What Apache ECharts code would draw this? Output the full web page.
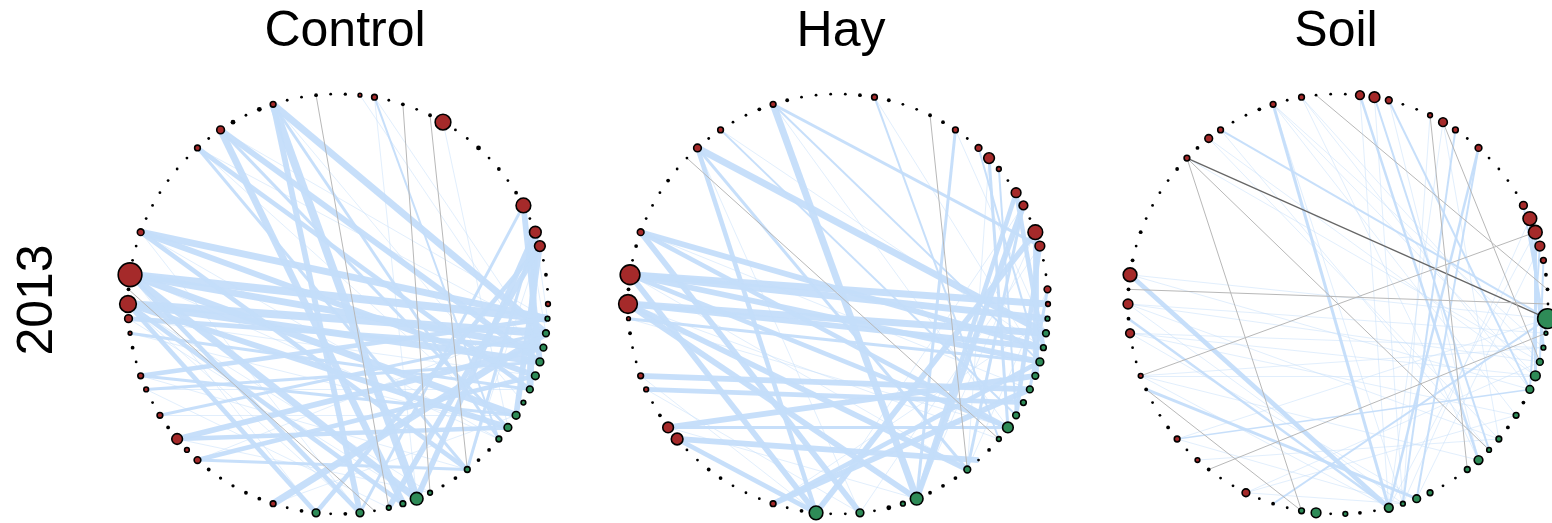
<!DOCTYPE html>
<html><head><meta charset="utf-8">
<script src="https://cdn.jsdelivr.net/npm/echarts@6/dist/echarts.min.js"></script>
<style>html,body{margin:0;padding:0;background:#fff}#c{width:1552px;height:523px}</style>
</head><body><div id="c"></div>
<script>
// ---- data ----
const N = 90; // nodes around each circle, index = position
const panelTitles = ['Control', 'Hay', 'Soil'];
const rowLabel = '2013';
// node colour code per index: r = red taxon, g = green taxon, k = absent (black dot)
const controlColors = 'rggggggggg' + 'gkkgkkgggg' + 'kgkkgkkrkk' + 'kkkrrrkrkr' + 'rkkrrrkrkk' +
                      'rkkkkkkrkr' + 'kkkrkkkkkr' + 'rkkkkrkkkk' + 'kkkrkrrkkk';
const controlSizes = [5,5,7,7,8,8,7,5,8,8, 6,3,3,6,3,2.5,5,13,6,5, 2,8,3,2,8,3,2,6,3,3,
                      2.5,2.5,3,7,5,11,3,6,2,5, 6,2,3,4,8,17,3,24,2,2, 7,2,2,2,2,2,2,6,2,8,
                      4,2,4,6,2,2,3,2,2.5,4, 6,2,3,2,3,16,2,2,4,2, 3,2,3,15,2,12,11,2,3,2];
const hayColors = 'rggggggggg' + 'gkkgkkkggk' + 'kgkkgkkrkk' + 'kkkkkrrkkr' + 'rkkkrrkrkk' +
                  'rkkkkkkrkr' + 'kkkrkkkkkk' + 'rkkkkkrkrr' + 'rkrrkrrkkr';
const haySizes = [5,5,7,6,8,7,7,6,7,11, 5,3,2,7,3,3,3,13,5,4, 2,8,2,2,14,3,2,6,2,2,
                  2,3,3,2,2,12,11,3,2,5, 6,2,2,3,4,19,3,20,2,3, 7,2,2,2,3,2,2,8,2,6,
                  2,2,3,6,3,2,2,2,2,3, 6,3,2,2,3,3,6,2,7,11, 5,2,10,9,2,15,10,2,2,7];
const soilColors = 'kggggggkgk' + 'ggggkkgggg' + 'kkgkggkkkr' + 'kkkrkrkkkk' + 'rkkrkrkrkk' +
                   'kkkkkkrkrr' + 'kkkrkrkkkr' + 'rrkkrrrkrk' + 'kkkrrrrrkk';
const soilSizes = [2,20,4,5,7,10,8,3,6,3, 6,5,9,6,2,2,6,8,5,9, 2,3,5,2,10,6,2,3,2,8,
                   2,2,3,5,2,6,3,2,2,3, 5,2,2,9,3,10,3,14,3,2, 3,2,2,2,2,3,6,3,8,6,
                   2,2,3,6,2,6,2,2,2,9, 11,7,2,2,5,9,6,2,7,2, 2,2,2,8,14,14,10,6,3,3];
// positive associations [source, target, weight]
const controlPos = [[47,1,7],[47,3,6],[47,8,6],[47,17,6],[45,2,7],[45,4,6],[45,9,5],[50,1,6],[50,5,5],
  [63,17,7],[63,2,6],[63,21,5],[59,18,6],[59,4,5],[57,6,4],[27,2,6],[35,3,5],[33,5,4],[85,6,6],[86,8,5],
  [83,4,5],[85,17,5],[86,19,5],[40,1,4],[44,3,4],[43,6,3],[39,4,3],[37,2,3],[40,8,3],[35,9,4],[33,13,3],
  [70,10,2],[57,13,3],[59,9,3],[63,10,3],[50,13,4],[47,21,4],[45,24,4],[45,18,4],[86,24,4],[83,21,3],[85,13,3],
  [47,10,1],[45,16,1],[50,21,1],[44,5,1],[39,6,1],[37,8,1],[35,16,1],[33,1,1],[27,8,1],[57,2,1],[59,1,1],
  [63,7,1],[70,3,1],[70,17,1],[69,4,1],[75,9,1],[83,2,1],[85,1,1],[86,13,1],[40,13,1],[43,9,1],[44,17,1],
  [39,19,1],[47,24,1],[45,21,1],[50,10,1],[57,9,1]];
const hayPos = [[63,17,6],[63,86,3],[57,2,6],[50,3,5],[50,21,5],[47,0,6],[47,1,6],[45,2,6],[45,3,5],[47,4,5],
  [45,13,5],[45,17,5],[47,24,5],[40,6,5],[39,7,4],[35,12,5],[36,5,5],[35,24,4],[27,6,5],[27,4,4],[24,85,5],
  [24,57,4],[17,83,5],[17,82,4],[9,47,4],[9,50,4],[79,9,3],[76,17,3],[83,13,3],[85,5,5],[86,8,4],[82,3,4],
  [89,6,3],[44,4,3],[36,9,3],[57,13,3],[59,8,2],[63,4,2],[70,10,2],[78,4,2],[80,8,2],
  [59,3,1],[63,9,1],[70,4,1],[76,2,1],[79,13,1],[45,10,1],[47,13,1],[50,6,1],[39,21,1],[40,24,1],[36,17,1],
  [27,1,1],[44,9,1],[57,21,1],[85,17,1],[86,21,1],[83,24,1],[89,13,1]];
const soilPos = [[63,19,3],[47,19,4],[39,17,3],[44,19,2.5],[78,19,2.5],[78,17,2],[76,18,2],[69,12,2.5],
  [70,11,2],[71,6,2],[59,1,2],[27,1,2],[35,6,1.5],[84,3,3],[85,5,3],[86,6,2],[83,2,2],[87,4,2],
  [63,3,1],[63,5,1],[63,8,1],[65,4,1],[65,6,1],[65,12,1],[58,5,1],[58,10,1],[56,4,1],[45,4,1],[45,10,1],
  [47,6,1],[43,3,1],[43,8,1],[40,12,1],[40,5,1],[35,1,1],[33,10,1],[29,4,1],[29,8,1],[75,19,1],[74,18,1],
  [70,18,1],[69,19,1],[84,18,1],[85,19,1],[86,17,1],[45,18,1],[43,17,1],[40,19,1],[35,18,1],[29,18,1],
  [63,18,1],[71,12,1],[75,10,1],[59,11,1],[47,1,1],[45,2,1],[43,5,1],[40,3,1]];
// negative associations [source, target, strength]
const controlNeg = [[66,19,1],[74,13,1],[72,16,1],[46,20,1]];
const hayNeg = [[56,10,1],[74,13,1]];
const soilNeg = [[56,1,2],[56,25,1],[56,11,1],[66,89,1],[74,13,1.2],[75,4,1],[40,85,1],[32,2,1],[39,25,1],[46,0,1]];

// ---- styling ----
const RED = '#a52a2a', GREEN = '#2e8b57', BLUE = '#c4ddfa';
const centersX = [338, 838, 1338], centerY = 304, R = 210;

function buildSeries(k, colors, sizes, pos, neg) {
  const nodes = colors.split('').map((c, i) => ({
    name: 'n' + i,
    value: [1, i],
    symbolSize: c === 'k' ? sizes[i] + 0.8 : sizes[i] - 0.3,
    itemStyle: c === 'k' ? { color: '#000', borderWidth: 0 }
      : { color: c === 'r' ? RED : GREEN, borderColor: '#000', borderWidth: 1.6 }
  }));
  const links = [];
  pos.forEach(([s, t, w]) => links.push({ source: 'n' + s, target: 'n' + t,
    lineStyle: { color: BLUE, width: w >= 4 ? w * 1.15 : w, opacity: w <= 1 ? 0.5 : 0.95 } }));
  neg.forEach(([s, t, w]) => links.push({ source: 'n' + s, target: 'n' + t,
    lineStyle: { color: w > 1.5 ? '#666' : '#b8b8b8', width: w > 1.5 ? 1.3 : 1, opacity: 1 } }));
  return {
    type: 'graph', coordinateSystem: 'polar', polarIndex: k,
    symbol: 'circle', data: nodes, links: links, silent: true,
    label: { show: false }, edgeSymbol: ['none', 'none'],
    lineStyle: { curveness: 0 }, emphasis: { disabled: true }
  };
}

const font = '"Liberation Sans", Arial, Helvetica, sans-serif';
const option = {
  animation: false,
  backgroundColor: '#fff',
  polar: centersX.map(x => ({ center: [x, centerY], radius: R })),
  angleAxis: centersX.map((x, k) => ({ polarIndex: k, type: 'value', min: 0, max: N,
    startAngle: 0, clockwise: true, show: false })),
  radiusAxis: centersX.map((x, k) => ({ polarIndex: k, type: 'value', min: 0, max: 1, show: false })),
  series: [
    buildSeries(0, controlColors, controlSizes, controlPos, controlNeg),
    buildSeries(1, hayColors, haySizes, hayPos, hayNeg),
    buildSeries(2, soilColors, soilSizes, soilPos, soilNeg)
  ],
  graphic: [
    ...panelTitles.map((t, k) => ({ type: 'text', x: [345, 841, 1336][k], y: 32,
      style: { text: t, font: '50px ' + font, fill: '#000', textAlign: 'center', align: 'center',
               textVerticalAlign: 'middle', verticalAlign: 'middle' } })),
    { type: 'text', x: 38, y: 300, rotation: Math.PI / 2,
      style: { text: rowLabel, font: '50px ' + font, fill: '#000', textAlign: 'center', align: 'center',
               textVerticalAlign: 'middle', verticalAlign: 'middle' } }
  ]
};
const chart = echarts.init(document.getElementById('c'), null, { renderer: 'canvas' });
chart.setOption(option);
</script></body></html>
